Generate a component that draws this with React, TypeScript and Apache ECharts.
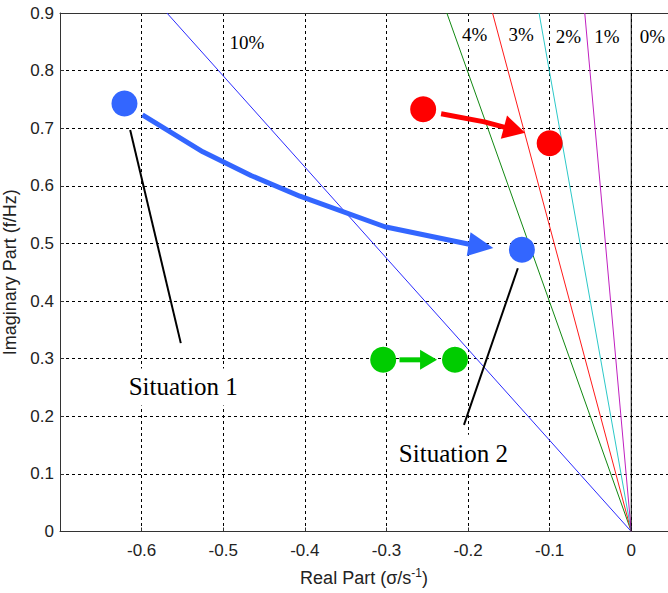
import React, { useEffect, useRef } from "react";
import * as echarts from "echarts";

// Damping-ratio lines (from origin to top of plot)
const dampingNames = ["10%", "4%", "3%", "2%", "1%", "0%"];
const dampingTopX = [-0.569, -0.226, -0.17, -0.113, -0.057, 0];
const dampingTopY = 0.9;
const dampingColors = ["#2a2aff", "#118811", "#ff1a1a", "#2cc8c8", "#c020c0", "#000000"];
const dampingLabelX = [-0.471, -0.192, -0.135, -0.077, -0.03, 0.026];
const dampingLabelY = [0.848, 0.862, 0.862, 0.859, 0.859, 0.859];

// Operating points (before -> after)
const blueX = [-0.621, -0.134];
const blueY = [0.743, 0.489];
const redX = [-0.255, -0.1];
const redY = [0.733, 0.674];
const greenX = [-0.304, -0.216];
const greenY = [0.298, 0.298];

// Arrow paths (last point is the tip)
const blueArrowX = [-0.599, -0.525, -0.466, -0.406, -0.302, -0.2, -0.169];
const blueArrowY = [0.723, 0.659, 0.618, 0.582, 0.529, 0.499, 0.492];
const redArrowX = [-0.233, -0.18, -0.13];
const redArrowY = [0.725, 0.711, 0.692];
const greenArrowX = [-0.284, -0.238];
const greenArrowY = [0.298, 0.298];

// Pointer lines to situation labels
const sit1LineX = [-0.614, -0.552];
const sit1LineY = [0.697, 0.327];
const sit2LineX = [-0.139, -0.205];
const sit2LineY = [0.457, 0.185];

const situationNames = ["Situation 1", "Situation 2"];
const situationX = [-0.549, -0.218];
const situationY = [0.251, 0.136];

const xMin = -0.7;
const xMax = 0.045;
const yMin = 0;
const yMax = 0.9;

function arrowSeries(xs: number[], ys: number[], color: string, width: number, headLen: number, headW: number) {
  const data = xs.map((x, i) => [x, ys[i]]);
  return {
    type: "custom",
    z: 5,
    data,
    renderItem: (params: any, api: any) => {
      if (params.dataIndex !== 0) return null;
      const pts = data.map((d) => api.coord(d));
      const tip = pts[pts.length - 1];
      const prev = pts[pts.length - 2];
      const dx = tip[0] - prev[0];
      const dy = tip[1] - prev[1];
      const len = Math.sqrt(dx * dx + dy * dy) || 1;
      const ux = dx / len;
      const uy = dy / len;
      const bx = tip[0] - ux * headLen;
      const by = tip[1] - uy * headLen;
      const px = -uy;
      const py = ux;
      const shaft = pts.slice(0, pts.length - 1).concat([[bx + ux * 2, by + uy * 2]]);
      return {
        type: "group",
        children: [
          {
            type: "polyline",
            shape: { points: shaft },
            style: { stroke: color, lineWidth: width, fill: null, lineJoin: "round" },
          },
          {
            type: "polygon",
            shape: {
              points: [
                tip,
                [bx + (px * headW) / 2, by + (py * headW) / 2],
                [bx - (px * headW) / 2, by - (py * headW) / 2],
              ],
            },
            style: { fill: color, stroke: null },
          },
        ],
      };
    },
  };
}

export default function App() {
  const ref = useRef<HTMLDivElement>(null);
  useEffect(() => {
    if (!ref.current) return;
    const chart = echarts.init(ref.current, undefined, { renderer: "svg" });
    const fmt = (v: number) => {
      if (Math.abs(v - xMin) < 1e-9) return "";
      const r = Math.round(v * 10) / 10;
      return r === 0 ? "0" : String(r);
    };
    const dampingSeries = dampingNames.map((n, i) => ({
      type: "line",
      name: n,
      data: [
        [0, 0],
        [dampingTopX[i], dampingTopY],
      ],
      symbol: "none",
      lineStyle: { color: dampingColors[i], width: 1 },
      z: 3,
      silent: true,
    }));
    const option: any = {
      animation: false,
      backgroundColor: "#ffffff",
      grid: {
        left: 60,
        top: 13,
        width: 608,
        height: 518.5,
        containLabel: false,
        outerBoundsMode: "none",
      },
      xAxis: [
        {
          type: "value",
          min: xMin,
          max: xMax,
          interval: 0.1,
          name: "{a|Real Part (σ/s}{sup|-1}{a|)}",
          nameLocation: "middle",
          nameGap: 35,
          nameTextStyle: {
            rich: {
              a: { fontFamily: "Liberation Sans", fontSize: 18, color: "#222" },
              sup: { fontFamily: "Liberation Sans", fontSize: 12, color: "#222", padding: [0, 0, 10, 0] },
            },
          },
          axisLine: { show: true, onZero: false, lineStyle: { color: "#333", width: 1 } },
          axisTick: { show: true, inside: true, length: 4, lineStyle: { color: "#333" } },
          axisLabel: {
            formatter: fmt,
            showMaxLabel: false,
            fontFamily: "Liberation Sans",
            fontSize: 17,
            color: "#222",
            margin: 10,
          },
          splitLine: { show: true, lineStyle: { color: "#000", type: [3, 3], width: 1 } },
        },
        {
          type: "value",
          position: "top",
          min: xMin,
          max: xMax,
          axisLine: { show: true, onZero: false, lineStyle: { color: "#333", width: 1 } },
          axisTick: { show: false },
          axisLabel: { show: false },
          splitLine: { show: false },
        },
      ],
      yAxis: {
        type: "value",
        min: yMin,
        max: yMax,
        interval: 0.1,
        name: "Imaginary Part (f/Hz)",
        nameLocation: "middle",
        nameGap: 30,
        nameTextStyle: { fontFamily: "Liberation Sans", fontSize: 18, color: "#222" },
        axisLine: { show: true, onZero: false, lineStyle: { color: "#333", width: 1 } },
        axisTick: { show: true, inside: true, length: 4, lineStyle: { color: "#333" } },
        axisLabel: {
          formatter: (v: number) => {
            const r = Math.round(v * 10) / 10;
            return r === 0 ? "0" : String(r);
          },
          fontFamily: "Liberation Sans",
          fontSize: 17,
          color: "#222",
          margin: 6,
        },
        splitLine: { show: true, lineStyle: { color: "#000", type: [3, 3], width: 1 } },
      },
      series: [
        ...dampingSeries,
        {
          type: "line",
          data: sit1LineX.map((x, i) => [x, sit1LineY[i]]),
          symbol: "none",
          lineStyle: { color: "#000", width: 2 },
          z: 4,
        },
        {
          type: "line",
          data: sit2LineX.map((x, i) => [x, sit2LineY[i]]),
          symbol: "none",
          lineStyle: { color: "#000", width: 2 },
          z: 4,
        },
        arrowSeries(blueArrowX, blueArrowY, "#3366ff", 5, 25, 24),
        arrowSeries(redArrowX, redArrowY, "#ff0000", 5, 22, 24),
        arrowSeries(greenArrowX, greenArrowY, "#00cc00", 5, 17, 20),
        {
          type: "scatter",
          data: blueX.map((x, i) => [x, blueY[i]]),
          symbolSize: 26,
          itemStyle: { color: "#3366ff", opacity: 1 },
          z: 6,
        },
        {
          type: "scatter",
          data: redX.map((x, i) => [x, redY[i]]),
          symbolSize: 26,
          itemStyle: { color: "#ff0000", opacity: 1 },
          z: 6,
        },
        {
          type: "scatter",
          data: greenX.map((x, i) => [x, greenY[i]]),
          symbolSize: 26,
          itemStyle: { color: "#00cc00", opacity: 1 },
          z: 6,
        },
        {
          type: "scatter",
          data: dampingNames.map((n, i) => ({ name: n, value: [dampingLabelX[i], dampingLabelY[i]] })),
          symbolSize: 0,
          z: 7,
          itemStyle: { opacity: 1 },
          label: {
            show: true,
            position: "inside",
            formatter: (p: any) => p.name,
            fontFamily: "Liberation Serif",
            fontSize: 19,
            color: "#000",
            opacity: 1,
            backgroundColor: "#fff",
            padding: [1, 2],
          },
        },
        {
          type: "scatter",
          data: situationNames.map((n, i) => ({ name: n, value: [situationX[i], situationY[i]] })),
          symbolSize: 0,
          z: 7,
          itemStyle: { opacity: 1 },
          label: {
            show: true,
            position: "inside",
            formatter: (p: any) => p.name,
            fontFamily: "Liberation Serif",
            fontSize: 25,
            color: "#000",
            opacity: 1,
            backgroundColor: "#fff",
            padding: [6, 8],
          },
        },
      ],
    };
    chart.setOption(option);
    return () => chart.dispose();
  }, []);
  return <div ref={ref} style={{ width: 668, height: 593, position: "absolute", left: 0, top: 0 }} />;
}
